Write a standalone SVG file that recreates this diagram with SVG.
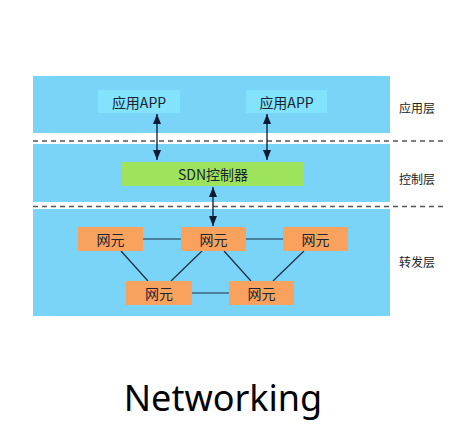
<svg xmlns="http://www.w3.org/2000/svg" width="475" height="440" viewBox="0 0 475 440">
<defs>
<style>
.band{fill:#79d4f8}
.app{fill:#84e3fc}
.ctl{fill:#9ee35c}
.ne{fill:#f8a25d}
.t{font-family:"Noto Sans CJK SC","Noto Sans",sans-serif;font-size:14px;fill:#1a2533;text-anchor:middle;dominant-baseline:central}
.lbl{font-family:"Noto Sans CJK SC",sans-serif;font-size:12px;fill:#222;text-anchor:middle;dominant-baseline:central}
.dash{stroke:#555;stroke-width:1.5;stroke-dasharray:5 4;fill:none}
.arr{stroke:#0d1a33;stroke-width:1.3;fill:none;marker-start:url(#ah);marker-end:url(#ah)}
.link{stroke:#1d2b45;stroke-width:1.2;fill:none}
</style>
<marker id="ah" viewBox="0 0 10 8" refX="10" refY="4" markerWidth="10" markerHeight="8" markerUnits="userSpaceOnUse" orient="auto-start-reverse">
<path d="M0,0 L10,4 L0,8 z" fill="#0d1a33"/>
</marker>
</defs>
<rect width="475" height="440" fill="#fff"/>
<g id="layers">
<rect class="band" x="33" y="76" width="357" height="57"/>
<rect class="band" x="33" y="144" width="357" height="58"/>
<rect class="band" x="33" y="209" width="357" height="107"/>
<line class="dash" x1="33" y1="141" x2="443" y2="141"/>
<line class="dash" x1="33" y1="206.5" x2="443" y2="206.5"/>
<text class="lbl" x="417" y="107">应用层</text>
<text class="lbl" x="417" y="178">控制层</text>
<text class="lbl" x="417" y="261">转发层</text>
</g>
<g id="connectors">
<line class="arr" x1="157" y1="114" x2="157" y2="160"/>
<line class="arr" x1="267" y1="114" x2="267" y2="160"/>
<line class="arr" x1="213" y1="187" x2="213" y2="226"/>
<line class="link" x1="143" y1="239" x2="181" y2="239"/>
<line class="link" x1="246" y1="239" x2="283" y2="239"/>
<line class="link" x1="192" y1="293" x2="229" y2="293"/>
<line class="link" x1="121" y1="251" x2="148" y2="281"/>
<line class="link" x1="202" y1="251" x2="171" y2="281"/>
<line class="link" x1="224" y1="251" x2="251" y2="281"/>
<line class="link" x1="304" y1="251" x2="273" y2="281"/>
</g>
<g id="app1"><rect class="app" x="98" y="90" width="82" height="23"/><text class="t" x="139" y="102">应用APP</text></g>
<g id="app2"><rect class="app" x="246" y="90" width="81" height="23"/><text class="t" x="286.5" y="102">应用APP</text></g>
<g id="sdn"><rect class="ctl" x="122" y="162" width="182" height="24"/><text class="t" x="213" y="174">SDN控制器</text></g>
<g id="ne1"><rect class="ne" x="78" y="227" width="65" height="24"/><text class="t" x="110.5" y="239">网元</text></g>
<g id="ne2"><rect class="ne" x="181" y="227" width="65" height="24"/><text class="t" x="213.5" y="239">网元</text></g>
<g id="ne3"><rect class="ne" x="283" y="227" width="65" height="24"/><text class="t" x="315.5" y="239">网元</text></g>
<g id="ne4"><rect class="ne" x="126" y="281" width="66" height="24"/><text class="t" x="159" y="293">网元</text></g>
<g id="ne5"><rect class="ne" x="229" y="281" width="65" height="24"/><text class="t" x="261.5" y="293">网元</text></g>
<text x="223" y="411" font-family="'Noto Sans',sans-serif" font-size="36" fill="#000" text-anchor="middle">Networking</text>
</svg>
